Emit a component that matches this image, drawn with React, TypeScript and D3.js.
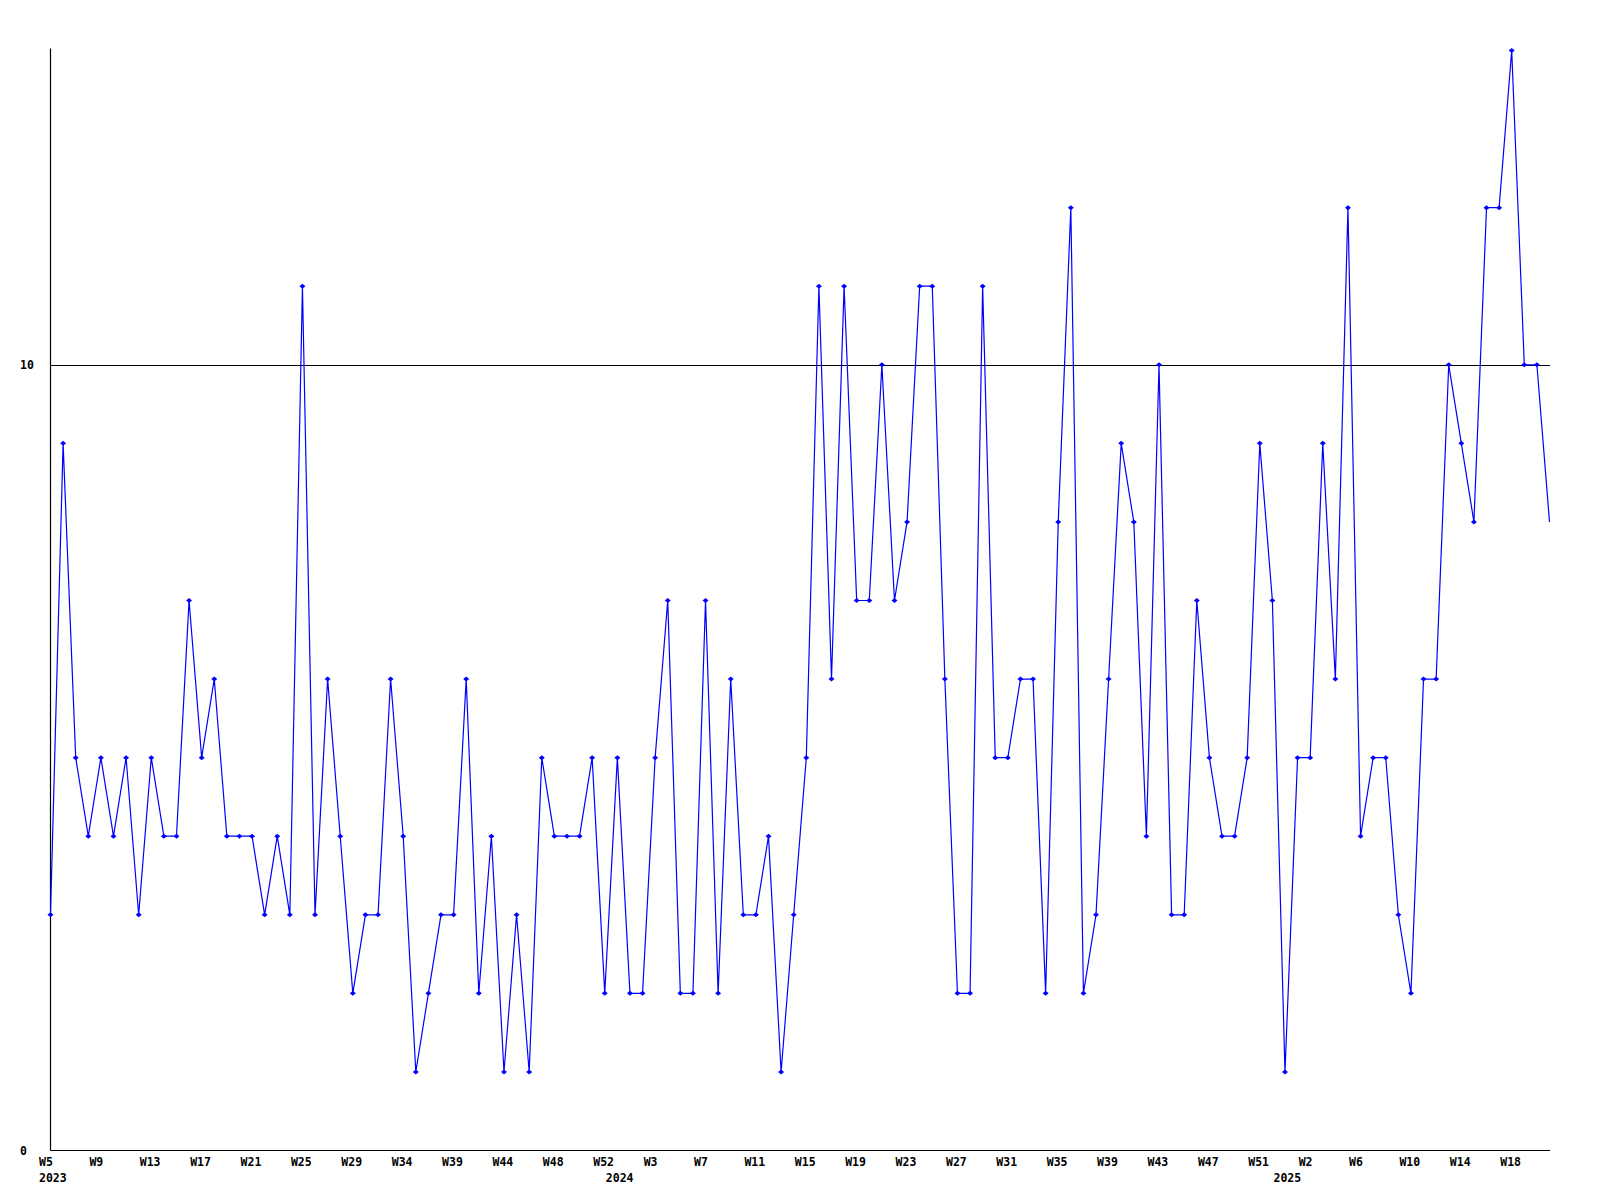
import React from "react";
import * as d3 from "d3";

// Week labels (weeks with no data are absent)
const weeks2023 = [
  "W5","W6","W7","W8","W9","W10","W11","W12","W13","W14","W15","W16","W17","W18","W19","W20",
  "W21","W22","W23","W24","W25","W26","W27","W28","W29","W30","W32","W33","W34","W35","W37","W38",
  "W39","W40","W42","W43","W44","W45","W46","W47","W48","W49","W50","W51","W52",
];
const values2023 = [
  3,9,5,4,5,4,5,3,5,4,4,7,5,6,4,4,4,3,4,3,11,3,6,4,2,3,3,6,4,1,2,3,3,6,2,4,1,3,1,5,4,4,4,5,2,
];
const weeks2024 = [
  "W0","W1","W2","W3","W4","W5","W6","W7","W8","W9","W10","W11","W12","W13","W14","W15","W16",
  "W17","W18","W19","W20","W21","W22","W23","W24","W25","W26","W27","W28","W29","W30","W31","W32",
  "W33","W34","W35","W36","W37","W38","W39","W40","W41","W42","W43","W44","W45","W46","W47","W48",
  "W49","W50","W51","W52",
];
const values2024 = [
  5,2,2,5,7,2,2,7,2,6,3,3,4,1,3,5,11,6,11,7,7,10,7,8,11,11,6,2,2,11,5,5,6,6,2,8,12,2,3,6,9,8,4,10,
  3,3,7,5,4,4,5,9,7,
];
const weeks2025 = [
  "W0","W1","W2","W3","W4","W5","W6","W7","W8","W9","W10","W11","W12","W13","W14","W15","W16",
  "W17","W18","W19","W20","W21",
];
const values2025 = [1,5,5,9,6,12,4,5,5,3,2,6,6,10,9,8,12,12,14,10,10,8];

const years = ["2023", "2024", "2025"];
const yTicks = [0, 10];
const yMax = 14;
const labelEvery = 4;

type Pt = { i: number; week: string; year: string; value: number; firstOfYear: boolean };

const yearData: [string, string[], number[]][] = [
  [years[0], weeks2023, values2023],
  [years[1], weeks2024, values2024],
  [years[2], weeks2025, values2025],
];
const points: Pt[] = [];
yearData.forEach(([year, weeks, vals]) => {
  weeks.forEach((w, k) => {
    points.push({ i: points.length, week: w, year, value: vals[k], firstOfYear: k === 0 });
  });
});

const W = 1600;
const H = 1200;
const left = 50.5;
const right = 1549.5;
const top = 50.5;
const bottom = 1150.5;
const FONT = "'DejaVu Sans Mono', 'Liberation Mono', monospace";

export default function App() {
  const x = d3.scaleLinear().domain([0, points.length - 1]).range([left, right]);
  const y = d3.scaleLinear().domain([0, yMax]).range([bottom, top]);
  const line = d3
    .line<Pt>()
    .x((d) => x(d.i))
    .y((d) => y(d.value));

  const marker = (cx: number, cy: number) =>
    `M${cx - 3},${cy} L${cx},${cy - 2.5} L${cx + 3},${cy} L${cx},${cy + 2.5} Z`;

  return (
    <svg
      width={W}
      height={H}
      style={{ position: "absolute", left: 0, top: 0, display: "block", background: "#fff" }}
    >
      <rect x={0} y={0} width={W} height={H} fill="#fff" />
      {/* gridline(s) */}
      {yTicks
        .filter((t) => t > 0)
        .map((t) => (
          <line
            key={"g" + t}
            x1={left}
            x2={right + 0.5}
            y1={Math.round(y(t)) + 0.5}
            y2={Math.round(y(t)) + 0.5}
            stroke="#000"
            strokeWidth={1}
          />
        ))}
      {/* axes */}
      <line x1={left} x2={left} y1={top - 2} y2={bottom} stroke="#000" strokeWidth={1.2} />
      <line x1={left} x2={right + 0.5} y1={bottom} y2={bottom} stroke="#000" strokeWidth={1.2} />
      {/* y labels */}
      {yTicks.map((t) => (
        <text
          key={"y" + t}
          x={20}
          y={y(t) + 4}
          fontFamily={FONT}
          fontWeight="bold"
          fontSize={11.5}
          fill="#000"
        >
          {t}
        </text>
      ))}
      {/* series */}
      <path d={line(points) || ""} fill="none" stroke="#0000ff" strokeWidth={1.2} />
      {points
        .filter((p) => x(p.i) < right - 1)
        .map((p) => (
          <path key={"m" + p.i} d={marker(x(p.i), y(p.value))} fill="#0000ff" />
        ))}
      {/* x labels */}
      {points
        .filter((p) => p.i % labelEvery === 0)
        .map((p) => (
          <text
            key={"x" + p.i}
            x={x(p.i) - 11.5}
            y={1166}
            fontFamily={FONT}
            fontWeight="bold"
            fontSize={11.5}
            fill="#000"
          >
            {p.week}
          </text>
        ))}
      {points
        .filter((p) => p.firstOfYear)
        .map((p) => (
          <text
            key={"yr" + p.i}
            x={x(p.i) - 11.5}
            y={1182}
            fontFamily={FONT}
            fontWeight="bold"
            fontSize={11.5}
            fill="#000"
          >
            {p.year}
          </text>
        ))}
    </svg>
  );
}
